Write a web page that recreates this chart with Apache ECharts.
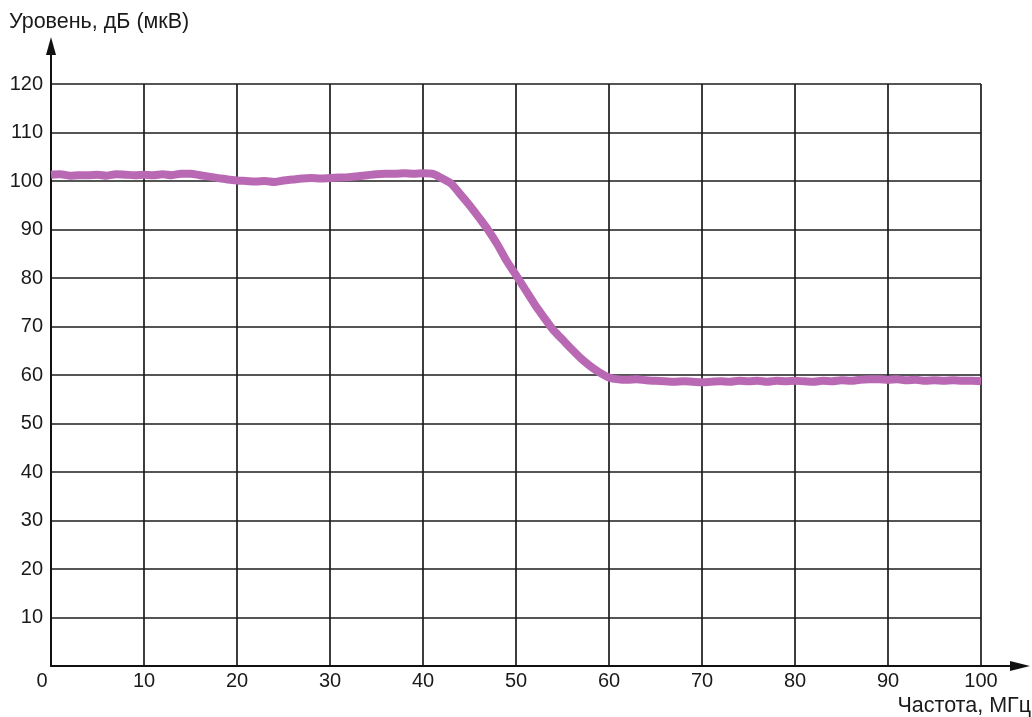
<!DOCTYPE html>
<html>
<head>
<meta charset="utf-8">
<script src="https://cdn.jsdelivr.net/npm/echarts@6/dist/echarts.min.js"></script>
<style>
html,body{margin:0;padding:0;background:#fff;}
#chart{width:1032px;height:717px;}
</style>
</head>
<body>
<div id="chart"></div>
<script>
var yAxisTitle = 'Уровень, дБ (мкВ)';
var xAxisTitle = 'Частота, МГц';
var freq = [];
for (var i = 0; i <= 100; i++) freq.push(i);
var level = [
 101.3,101.4,101.1,101.2,101.2,101.3,101.1,101.4,101.3,101.2,
 101.3,101.2,101.4,101.2,101.5,101.5,101.2,100.9,100.6,100.3,
 100.1,100.0,99.9,100.0,99.8,100.1,100.3,100.5,100.6,100.5,
 100.6,100.7,100.8,101.0,101.2,101.4,101.5,101.5,101.6,101.5,
 101.6,101.5,100.6,99.5,97.3,95.0,92.5,89.9,86.9,83.5,
 80.6,77.6,74.6,71.9,69.3,67.3,65.3,63.4,61.8,60.5,
 59.5,59.1,59.0,59.1,58.9,58.8,58.7,58.6,58.7,58.6,
 58.5,58.6,58.7,58.6,58.8,58.7,58.8,58.6,58.8,58.7,
 58.8,58.7,58.6,58.8,58.7,58.9,58.8,59.0,59.1,59.1,
 59.0,59.1,58.9,59.0,58.8,58.9,58.8,58.9,58.8,58.8,
 58.7
];
var data = freq.map(function(f, i){ return [f, level[i]]; });

var FONT = 'Liberation Sans, Arial, sans-serif';
var gridColor = '#1c1c1c';
var textColor = '#1a1a1a';
var chart = echarts.init(document.getElementById('chart'));
chart.setOption({
  animation: false,
  backgroundColor: '#fff',
  grid: [
    {left: 51, right: 51, top: 84, bottom: 51},
    {left: 51, right: 12, top: 46, bottom: 51}
  ],
  xAxis: [
    {type: 'value', gridIndex: 0, min: 0, max: 100, interval: 10,
     axisLine: {show: false}, axisTick: {show: false},
     splitLine: {show: true, lineStyle: {color: gridColor, width: 1.7}},
     axisLabel: {color: textColor, fontFamily: FONT, fontSize: 20, margin: 5,
       formatter: function(v){ return v === 0 ? '{z|0}' : String(v); },
       rich: {z: {fontFamily: FONT, fontSize: 20, color: textColor, padding: [0, 18, 0, 0]}}}},
    {type: 'value', gridIndex: 1, min: 0, max: 1,
     axisLine: {show: true, symbol: ['none', 'triangle'], symbolSize: [10, 20],
       lineStyle: {color: '#111', width: 2}},
     axisTick: {show: false}, axisLabel: {show: false}, splitLine: {show: false}}
  ],
  yAxis: [
    {type: 'value', gridIndex: 0, min: 0, max: 120, interval: 10,
     axisLine: {show: false}, axisTick: {show: false},
     splitLine: {show: true, lineStyle: {color: gridColor, width: 1.7}},
     axisLabel: {color: textColor, fontFamily: FONT, fontSize: 20, margin: 8,
       formatter: function(v){ return v === 0 ? '' : String(v); }}},
    {type: 'value', gridIndex: 1, min: 0, max: 1,
     axisLine: {show: true, symbol: ['none', 'triangle'], symbolSize: [10, 18],
       lineStyle: {color: '#111', width: 2}},
     axisTick: {show: false}, axisLabel: {show: false}, splitLine: {show: false}}
  ],
  graphic: [
    {type: 'text', left: 9, top: 11, style: {text: yAxisTitle, fontFamily: FONT, fontSize: 21.5, fill: textColor}},
    {type: 'text', right: 1, top: 695, style: {text: xAxisTitle, fontFamily: FONT, fontSize: 21.5, fill: textColor}}
  ],
  series: [{
    type: 'line', xAxisIndex: 0, yAxisIndex: 0, data: data,
    showSymbol: false, symbol: 'none', smooth: 0.3,
    lineStyle: {color: '#b968b4', width: 8}
  }]
});
</script>
</body>
</html>
